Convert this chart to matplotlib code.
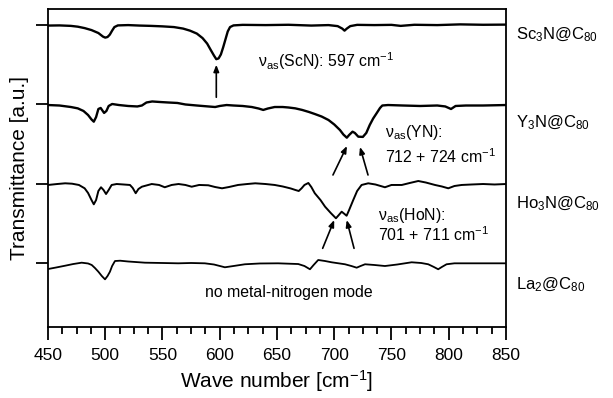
import matplotlib
matplotlib.use("Agg")
import matplotlib.pyplot as plt
from matplotlib.patches import FancyArrowPatch

plt.rcParams['font.family'] = ['Liberation Sans', 'DejaVu Sans']
plt.rcParams['mathtext.fontset'] = 'custom'
plt.rcParams['mathtext.rm'] = 'Liberation Sans'
plt.rcParams['mathtext.it'] = 'Liberation Sans:italic'
plt.rcParams['mathtext.bf'] = 'Liberation Sans:bold'

# ---------------- data (wavenumber, relative transmittance) ----------------
sc_wn = [450, 460, 470, 476, 482, 488, 494, 498, 500, 502, 504, 506, 508, 511, 520, 530, 540, 550,
         560, 568, 574, 580, 585, 589, 592, 595, 597, 599, 601, 603, 605, 607, 609, 612, 620, 640,
         660, 680, 695, 703, 707, 709, 711, 714, 720, 735, 750, 758, 770, 790, 810, 830, 850]
sc_t = [-0.006, -0.004, -0.01, -0.02, -0.038, -0.063, -0.10, -0.145, -0.158, -0.15, -0.12, -0.07,
        -0.025, -0.004, 0.0, -0.006, -0.01, -0.016, -0.025, -0.044, -0.07, -0.107, -0.164, -0.233,
        -0.31, -0.385, -0.43, -0.42, -0.37, -0.28, -0.18, -0.08, -0.025, -0.004, 0.003, 0.0,
        0.004, -0.006, 0.0, -0.013, -0.044, -0.07, -0.044, -0.013, 0.003, 0.0, 0.003, -0.01,
        0.004, 0.0, 0.009, 0.004, 0.006]

y_wn = [450, 460, 470, 476, 481, 485, 488, 490, 492, 494, 496, 499, 501, 503, 506, 512, 520, 528,
        532, 536, 541, 548, 555, 563, 570, 580, 590, 596, 600, 606, 612, 620, 628, 634, 638, 642,
        648, 655, 660, 666, 672, 678, 683, 689, 695, 700, 705, 708, 711, 713, 716, 718, 721, 725,
        728, 731, 734, 737, 740, 742, 747, 760, 775, 790, 797, 802, 806, 815, 830, 850]
y_t = [-0.008, -0.014, -0.033, -0.05, -0.083, -0.134, -0.19, -0.218, -0.16, -0.058, -0.045, -0.108,
       -0.083, -0.02, 0.005, -0.008, -0.02, -0.026, -0.014, 0.024, 0.037, 0.03, 0.024, 0.018,
       -0.001, -0.014, -0.026, -0.033, -0.02, -0.008, -0.014, -0.02, -0.033, -0.052, -0.07, -0.052,
       -0.033, -0.033, -0.039, -0.05, -0.07, -0.096, -0.121, -0.153, -0.197, -0.253, -0.323, -0.38,
       -0.42, -0.386, -0.344, -0.36, -0.407, -0.41, -0.36, -0.26, -0.178, -0.112, -0.045, -0.014,
       -0.008, -0.014, -0.02, -0.014, -0.026, -0.058, -0.02, -0.014, -0.014, -0.008]

ho_wn = [450, 458, 465, 471, 477, 482, 485, 488, 490, 492, 494, 496.3, 498.5, 500.7, 503, 505.6,
         510, 516, 521.6, 524, 526.6, 529, 532, 540.6, 547, 552, 558, 564, 570, 575.5, 582, 590,
         596, 602, 608, 616, 624, 631, 640, 648, 655, 662, 666, 669, 671.5, 674, 677.4, 680, 683,
         688, 692, 697, 701.5, 704, 706.5, 709, 710.8, 713, 716.6, 720, 723.9, 729.7, 736, 744.3,
         750, 759, 766, 773.4, 780, 788, 794, 799.6, 805, 811.3, 820, 830, 840, 850]
ho_t = [-0.016, -0.004, 0.005, 0.0, -0.016, -0.058, -0.117, -0.206, -0.26, -0.206, -0.092, -0.045,
        -0.079, -0.13, -0.079, -0.016, -0.004, -0.01, -0.016, -0.054, -0.12, -0.067, -0.038, -0.004,
        -0.016, -0.045, -0.016, -0.004, -0.016, -0.038, -0.016, -0.02, -0.042, -0.058, -0.042,
        -0.016, -0.004, 0.005, -0.004, -0.016, -0.035, -0.06, -0.079, -0.092, -0.058, -0.016, 0.009,
        -0.042, -0.12, -0.206, -0.29, -0.37, -0.436, -0.395, -0.353, -0.382, -0.404, -0.332, -0.206,
        -0.092, -0.016, 0.005, -0.01, -0.045, -0.016, -0.016, 0.009, 0.034, 0.015, -0.016, -0.035,
        -0.058, -0.029, -0.016, -0.01, -0.004, -0.01, -0.004]

la_wn = [450, 457, 465, 472, 479.4, 485, 488.2, 491, 494, 497, 499.8, 502, 504.1, 506, 508.5, 513,
         520, 534.7, 550, 563.8, 575, 587, 595, 604.5, 612, 622, 635, 651, 668.6, 674, 678.8, 682,
         686, 692, 697.7, 709.4, 715, 719.6, 723, 726.9, 735, 744.3, 755, 767.6, 776, 782.1, 787,
         790.8, 794, 798.1, 805, 820, 850]
la_t = [-0.076, -0.057, -0.034, -0.013, 0.004, -0.006, -0.025, -0.063, -0.11, -0.164, -0.206,
        -0.164, -0.11, -0.038, 0.025, 0.029, 0.019, 0.004, 0.0, -0.004, 0.0, -0.004, -0.019, -0.054,
        -0.038, -0.016, -0.006, -0.004, -0.013, -0.038, -0.079, -0.025, 0.038, 0.025, 0.009, -0.016,
        -0.038, -0.059, -0.038, -0.016, -0.025, -0.038, -0.019, 0.009, 0.0, -0.016, -0.05, -0.079,
        -0.05, -0.016, -0.004, -0.004, -0.004]

spectra = [(la_wn, la_t), (ho_wn, ho_t), (y_wn, y_t), (sc_wn, sc_t)]
offsets = [0, 1, 2, 3]
linewidths = [1.3, 1.4, 1.7, 1.7]
names = [r'La$_2$@C$_{80}$', r'Ho$_3$N@C$_{80}$', r'Y$_3$N@C$_{80}$', r'Sc$_3$N@C$_{80}$']
name_y = [-0.27, 0.75, 1.77, 2.88]

xticks = [450, 500, 550, 600, 650, 700, 750, 800, 850]
xminor = [450 + 12.5 * i for i in range(33)]

# ---------------- figure ----------------
fig = plt.figure(figsize=(6.13, 3.98), dpi=100)
ax = fig.add_axes([0.0783, 0.1784, 0.7471, 0.799])

for (wn, t), off, lw in zip(spectra, offsets, linewidths):
    ax.plot(wn, [v + off for v in t], color='black', lw=lw, solid_joinstyle='round')

ax.set_xlim(450, 850)
ax.set_ylim(-0.807, 3.203)
ax.set_xticks(xticks)
ax.set_xticks(xminor, minor=True)
ax.set_yticks(offsets)
ax.set_yticklabels([])
ax.tick_params(axis='both', which='major', direction='out', length=9, width=1.3, labelsize=12.5)
ax.tick_params(axis='x', which='minor', direction='out', length=5, width=1.3)
ax.tick_params(axis='x', pad=6)
for s in ax.spines.values():
    s.set_linewidth(1.3)

ax.set_xlabel(r'Wave number [cm$^{-1}$]', fontsize=15, labelpad=4)
ax.set_ylabel('Transmittance [a.u.]', fontsize=15, labelpad=1)

# sample names to the right of the axes
for nm, yv in zip(names, name_y):
    ax.text(1.022, yv, nm, transform=ax.get_yaxis_transform(), fontsize=12,
            ha='left', va='center', clip_on=False)

# annotations
fs = 11.4
ax.text(633, 2.54, r'ν$_{\mathrm{as}}$(ScN): 597 cm$^{-1}$', fontsize=fs, ha='left', va='center')
ax.text(744, 1.64, r'ν$_{\mathrm{as}}$(YN):', fontsize=fs, ha='left', va='center')
ax.text(744, 1.337, r'712 + 724 cm$^{-1}$', fontsize=fs, ha='left', va='center')
ax.text(738.5, 0.605, r'ν$_{\mathrm{as}}$(HoN):', fontsize=fs, ha='left', va='center')
ax.text(738.5, 0.353, r'701 + 711 cm$^{-1}$', fontsize=fs, ha='left', va='center')
ax.text(587, -0.375, 'no metal-nitrogen mode', fontsize=fs, ha='left', va='center')

arrows = [((597, 2.09), (597, 2.50)),
          ((698.9, 1.11), (711.1, 1.475)), ((729.5, 1.11), (722.5, 1.463)),
          ((689.9, 0.185), (700.0, 0.542)), ((717.3, 0.185), (710.9, 0.542))]
for a, b in arrows:
    ax.add_patch(FancyArrowPatch(a, b, arrowstyle='-|>,head_length=4,head_width=1.6',
                                 color='black', lw=1.2, mutation_scale=1, shrinkA=0, shrinkB=0))

fig.savefig('out.png', dpi=100)
